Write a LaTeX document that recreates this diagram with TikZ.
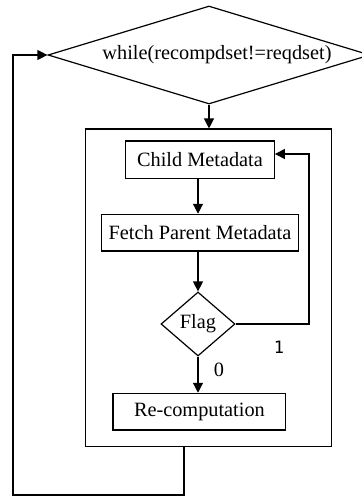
\documentclass[tikz,border=0pt]{standalone}
\usepackage{fontspec}
\setmainfont{Liberation Serif}
\newfontfamily\digitfont{DejaVu Sans Mono}
\usetikzlibrary{shapes.geometric,arrows.meta}
\begin{document}
\begin{tikzpicture}[x=1pt,y=-1pt,
  every node/.style={font=\fontsize{20.3}{24}\selectfont, inner sep=0pt},
  proc/.style={draw, line width=1.2pt, rectangle},
  decide/.style={draw, line width=1.2pt, diamond},
  arr/.style={line width=1.2pt, -{Triangle[length=10pt,width=10pt]}},
  wire/.style={line width=1.2pt}]
\useasboundingbox (0,0) rectangle (361,497);

% loop condition
\node[decide, minimum width=322pt, minimum height=98pt, aspect=3.3,
      execute at begin node={\hspace*{16pt}}] (while) at (209,55)
      {while(recompdset!=reqdset)};

% loop body frame
\node[proc, minimum width=246pt, minimum height=317.7pt] (loop) at (208.7,287.9) {};

% body steps
\node[proc, minimum width=148.6pt, minimum height=37.3pt] (child) at (200,159.7) {Child Metadata};
\node[proc, minimum width=196.6pt, minimum height=36.7pt] (fetch) at (200,232.7) {Fetch Parent Metadata};
\node[decide, minimum width=74pt, minimum height=64pt] (flag) at (198,324) {Flag};
\node[proc, minimum width=172.7pt, minimum height=36.7pt] (recomp) at (199.4,411.7) {Re-computation};

% branch labels
\node (one) at (279,347) {\digitfont\fontsize{17}{20}\selectfont 1};
\node (zero) at (219,370) {0};

% helper corners
\coordinate (fb) at (309,154);
\coordinate (c1) at (184,495);
\coordinate (c2) at (13,495);

% flow
\draw[arr] (while.south) -- (loop.north -| while.south);
\draw[arr] (child.south -| flag.north) -- (fetch.north -| flag.north);
\draw[arr] (fetch.south -| flag.north) -- (flag.north);
\draw[arr] (flag.south) -- (recomp.north -| flag.south);
\draw[arr] (flag.east) -| (fb) -- (fb -| child.east);
\draw[arr] (loop.south -| c1) -- (c1) -- (c2) |- (while.west);
\end{tikzpicture}
\end{document}
